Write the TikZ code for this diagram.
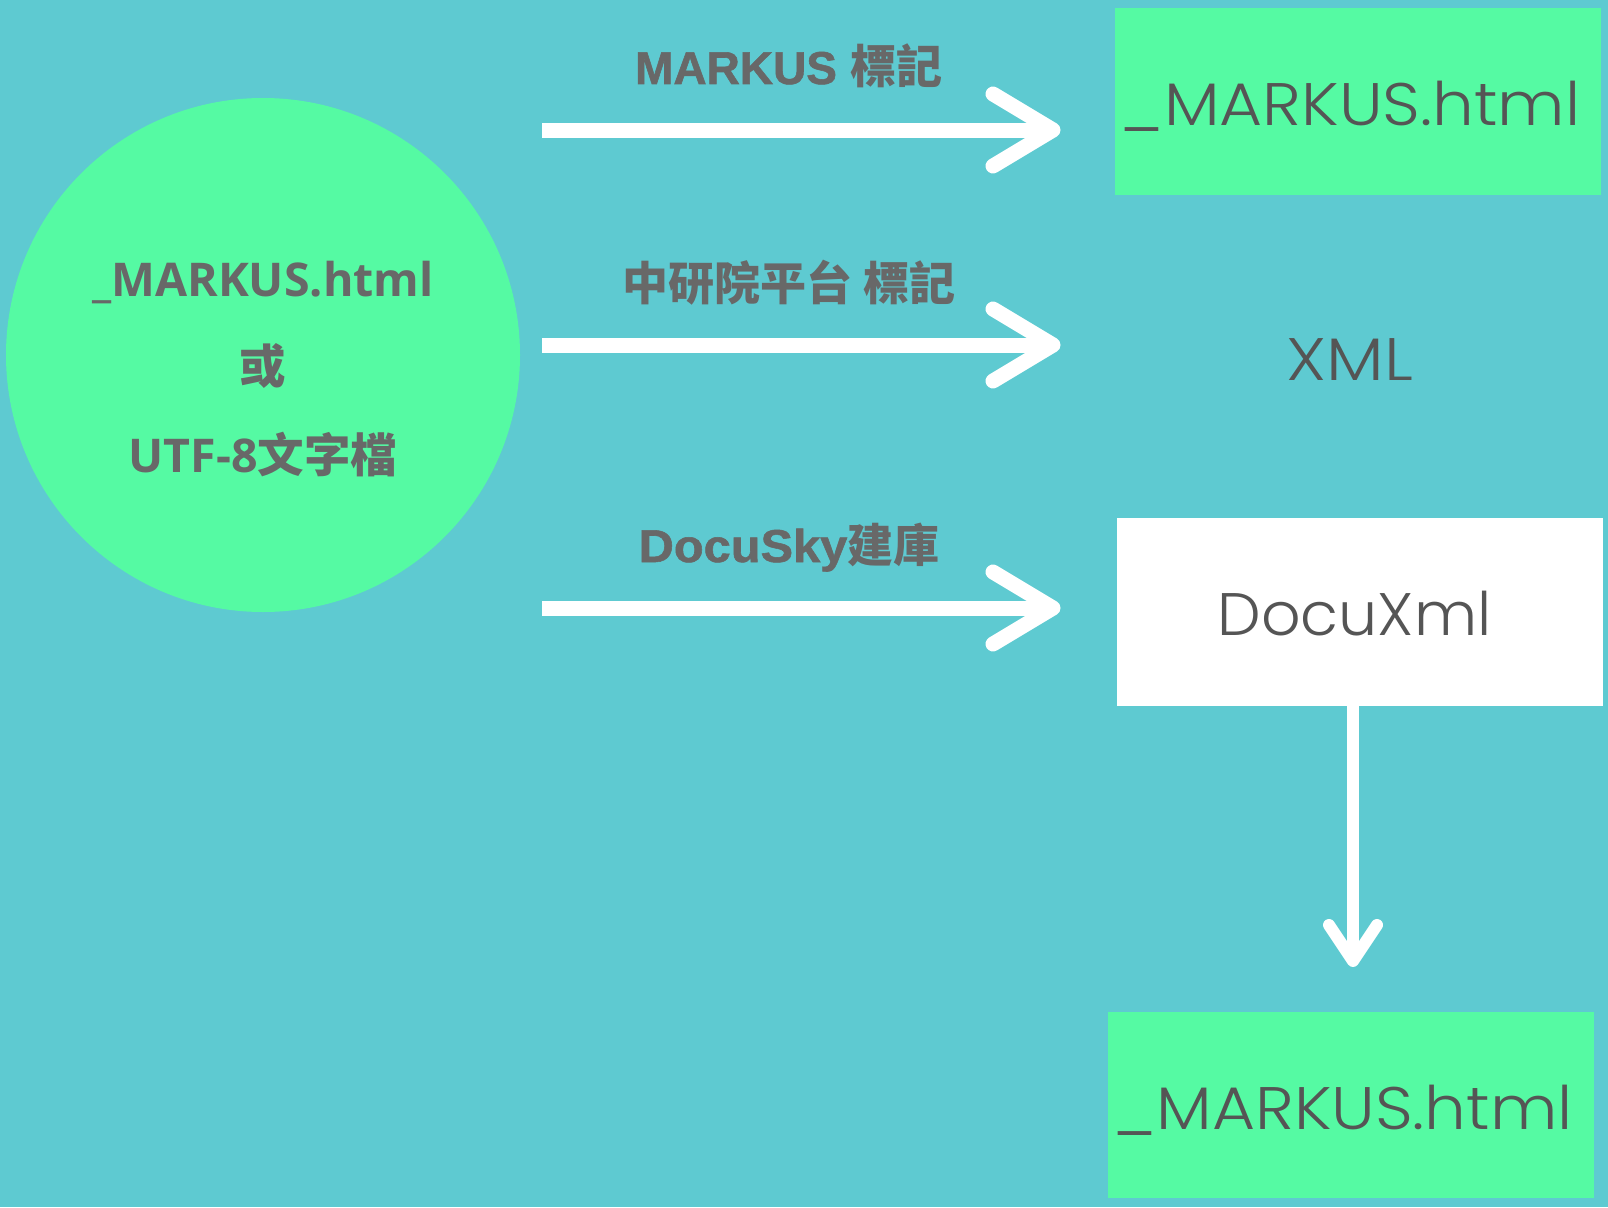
\documentclass[tikz,border=0pt]{standalone}
\usepackage{fontspec}
\newfontfamily\cjk{Noto Sans CJK TC}
\IfFontExistsTF{Open Sans Bold}{\newfontfamily\ltn{Open Sans Bold}}{\newfontfamily\ltn{Noto Sans CJK TC Bold}}
\newfontfamily\labfont{Liberation Sans}[BoldFeatures={FakeBold=1.2}]
\newfontfamily\boxfont{Poppins}[UprightFont=* Light]
\definecolor{bgc}{RGB}{94,202,209}
\definecolor{grn}{RGB}{85,250,163}
\definecolor{ctxt}{RGB}{104,104,104}
\definecolor{btxt}{RGB}{85,85,85}
\begin{document}
\begin{tikzpicture}[x=1pt,y=-1pt,
  ctext/.style={anchor=base, inner sep=0, text=ctxt, font=\fontsize{46.5}{56}\selectfont},
  labtext/.style={anchor=base, inner sep=0, text=ctxt, font=\fontsize{46}{55}\selectfont},
  btext/.style={anchor=base, inner sep=0, text=btxt, font=\boxfont\fontsize{60}{72}\selectfont},
  gbox/.style={rectangle, fill=grn, inner sep=0, minimum width=486pt},
  wbox/.style={rectangle, fill=white, inner sep=0, minimum width=486pt},
  shaft/.style={draw=white, line width=15pt, line cap=butt},
  chev/.style={draw=white, line width=15pt, line cap=round, line join=round},
  vshaft/.style={draw=white, line width=12pt, line cap=butt},
  vchev/.style={draw=white, line width=12pt, line cap=round, line join=round}]
\fill[bgc] (0,0) rectangle (1608,1207);
\useasboundingbox (0,0) rectangle (1608,1207);

% source circle
\node[circle, fill=grn, minimum size=514pt, inner sep=0] (src) at (263,355) {};
\node[ctext] (srcl1) at (263,296) {{\ltn \_MARKUS.html}};
\node[ctext] (srcl2) at (263,383) {{\cjk\bfseries 或}};
\node[ctext] (srcl3) at (263,472) {{\ltn UTF-8}{\cjk\bfseries 文字檔}};

% output boxes
\node[gbox, minimum height=187pt] (out1) at (1358,101.5) {};
\node[btext] (out1t) at (1350,125) {\scalebox{1.10}[1]{\_MARKUS.html}};
\node[btext] (xml) at (1350,380) {\scalebox{1.14}[1]{XML}};
\node[wbox, minimum height=188pt] (out2) at (1360,612) {};
\node[btext] (out2t) at (1354.5,635) {\scalebox{1.03}[1]{DocuXml}};
\node[gbox, minimum height=186pt] (out3) at (1351,1105) {};
\node[btext] (out3t) at (1342.5,1129) {\scalebox{1.10}[1]{\_MARKUS.html}};

% labels
\node[labtext] (lab1) at (789,84) {{\labfont\bfseries MARKUS} {\cjk\bfseries 標記}};
\node[labtext] (lab2) at (789,300) {{\cjk\bfseries 中研院平台 標記}};
\node[labtext] (lab3) at (789,562) {{\labfont\bfseries\scalebox{1.06}[1]{DocuSky}}{\cjk\bfseries 建庫}};

% horizontal arrows
\coordinate (a1s) at (542,130);
\coordinate (a1e) at (1053,130);
\coordinate (a2s) at (542,345);
\coordinate (a2e) at (1053,345);
\coordinate (a3s) at (542,608);
\coordinate (a3e) at (1053,608);
\draw[shaft] (a1s) -- (a1e);
\draw[chev] (a1e) ++(-60,-36) -- (a1e) -- ++(-60,36);
\draw[shaft] (a2s) -- (a2e);
\draw[chev] (a2e) ++(-60,-36) -- (a2e) -- ++(-60,36);
\draw[shaft] (a3s) -- (a3e);
\draw[chev] (a3e) ++(-60,-36) -- (a3e) -- ++(-60,36);

% vertical arrow
\coordinate (vs) at (1353,706);
\coordinate (ve) at (1353,961);
\draw[vshaft] (vs) -- (ve);
\draw[vchev] (ve) ++(-24,-36) -- (ve) -- ++(24,-36);
\end{tikzpicture}
\end{document}
